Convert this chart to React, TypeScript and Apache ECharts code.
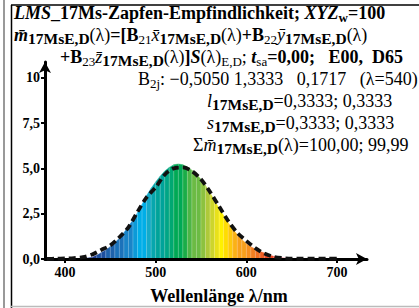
import React, { useEffect, useRef } from "react";
import * as echarts from "echarts";

// ---------- data ----------
const spectrumLambda = [
  400, 405, 410, 415, 420, 425, 430, 435, 440, 445, 450, 455, 460, 465, 470, 475, 480, 485, 490, 495,
  500, 505, 510, 515, 520, 525, 530, 535, 540, 545, 550, 555, 560, 565, 570, 575, 580, 585, 590, 595,
  600, 605, 610, 615, 620, 625, 630, 635, 640, 645, 650, 655, 660, 665, 670,
];
const spectrumValues = [
  0, 0.005, 0.01, 0.02, 0.03, 0.06, 0.1, 0.2, 0.35, 0.5, 0.68, 0.9, 1.15, 1.45, 1.8, 2.15, 2.55, 3.0, 3.5, 3.9,
  4.25, 4.57, 4.85, 5.05, 5.2, 5.24, 5.2, 5.08, 4.9, 4.67, 4.4, 4.05, 3.65, 3.22, 2.8, 2.4, 2.0, 1.65, 1.35, 1.08,
  0.85, 0.68, 0.55, 0.43, 0.33, 0.23, 0.15, 0.1, 0.06, 0.04, 0.02, 0.015, 0.01, 0.005, 0,
];
const dashedLambda = [
  380, 390, 400, 410, 420, 430, 440, 450, 460, 470, 480, 490, 500, 510, 520, 530, 540, 550, 560, 570,
  580, 590, 600, 610, 620, 630, 640, 650, 660, 670, 680, 690, 700,
];
const dashedValues = [
  0, 0.02, 0.03, 0.05, 0.1, 0.25, 0.5, 0.75, 1.2, 1.75, 2.6, 3.4, 3.95, 4.65, 5.0, 5.05, 4.85, 4.4, 3.7, 2.9,
  2.1, 1.45, 1.0, 0.6, 0.3, 0.12, 0.05, 0.02, 0.02, 0.02, 0.02, 0.02, 0.02,
];
const xTicks = [400, 500, 600, 700];
const yTicks = [0, 2.5, 5, 7.5, 10];
const yTickLabels = ["0,0", "2,5", "5,0", "7,5", "10"];
const refLineValue = 5;

// spectral colour stops (style)
const spectrumStops: [number, string][] = [
  [400, "#2b2f7e"], [425, "#1f3c8f"], [435, "#1d4f9f"], [445, "#1e62ac"], [455, "#1c72ba"],
  [465, "#1a84c8"], [475, "#0c9ad8"], [480, "#00aee8"], [488, "#14aac8"], [495, "#06a6ae"],
  [500, "#00a39a"], [507, "#00a686"], [513, "#00a872"], [520, "#00a955"], [528, "#1aad48"],
  [535, "#4db546"], [540, "#6bbb44"], [546, "#8cc23f"], [552, "#aec93a"], [557, "#cdd52c"],
  [562, "#e8e11a"], [566, "#fff100"], [572, "#ffdd00"], [578, "#fec80c"], [584, "#fbb116"],
  [590, "#f8a01b"], [596, "#f6901e"], [602, "#f47f20"], [608, "#f27021"], [614, "#ef5e23"],
  [620, "#ed4a25"], [626, "#ea3527"], [632, "#e4212b"], [640, "#dc1e32"], [650, "#d01c3c"],
];
function colorAt(l: number): string {
  let c = spectrumStops[0][1];
  for (const [w, col] of spectrumStops) if (w <= l + 0.01) c = col;
  return c;
}

const SERIF = '"Liberation Serif", "Times New Roman", serif';
const F = 18;
const LH = 22;

const rich: any = {
  b: { fontFamily: SERIF, fontSize: F, fontWeight: "bold", lineHeight: LH, color: "#000" },
  n: { fontFamily: SERIF, fontSize: F, fontWeight: "normal", lineHeight: LH, color: "#000" },
  bi: { fontFamily: SERIF, fontSize: F, fontWeight: "bold", fontStyle: "italic", lineHeight: LH, color: "#000" },
  i: { fontFamily: SERIF, fontSize: F, fontWeight: "normal", fontStyle: "italic", lineHeight: LH, color: "#000" },
  sb: { fontFamily: SERIF, fontSize: 15.5, fontWeight: "bold", lineHeight: 12, verticalAlign: "bottom", color: "#000" },
  sw: { fontFamily: SERIF, fontSize: 13, fontWeight: "bold", lineHeight: 10, verticalAlign: "bottom", color: "#000" },
  sn: { fontFamily: SERIF, fontSize: 13, fontWeight: "normal", lineHeight: 10, verticalAlign: "bottom", color: "#000" },
};

function txt(x: number, y: number, text: string) {
  return {
    type: "text",
    x,
    y,
    z: 10,
    style: { text, rich, align: "left", verticalAlign: "middle", fill: "#000" },
  };
}

export default function App() {
  const ref = useRef<HTMLDivElement>(null);
  useEffect(() => {
    if (!ref.current) return;
    const chart = echarts.init(ref.current, undefined, { renderer: "svg" });

    const segs: number[][] = [];
    for (let i = 0; i < spectrumLambda.length - 1; i++) {
      segs.push([spectrumLambda[i], spectrumValues[i], spectrumLambda[i + 1], spectrumValues[i + 1]]);
    }

    const option: any = {
      animation: false,
      grid: { left: 45, right: 52, top: 62, bottom: 49 },
      xAxis: {
        type: "value",
        min: 378,
        max: 733.1,
        z: 3,
        axisLine: {
          lineStyle: { color: "#000", width: 3 },
          symbol: ["none", "arrow"],
          symbolSize: [9, 11],
        },
        axisTick: { customValues: xTicks, length: 4, lineStyle: { color: "#000", width: 2 } },
        axisLabel: {
          customValues: xTicks,
          fontFamily: SERIF,
          fontWeight: "bold",
          fontSize: 14,
          color: "#000",
          margin: 6,
        },
        splitLine: { show: false },
      },
      yAxis: {
        type: "value",
        min: 0,
        max: 10.866,
        z: 3,
        axisLine: {
          show: true,
          lineStyle: { color: "#000", width: 3 },
          symbol: ["none", "arrow"],
          symbolSize: [9, 11],
        },
        axisTick: { show: true, customValues: yTicks, length: 4, lineStyle: { color: "#000", width: 2 } },
        axisLabel: {
          customValues: yTicks,
          formatter: (v: number) => {
            const k = yTicks.findIndex((t) => Math.abs(t - v) < 1e-6);
            return k >= 0 ? yTickLabels[k] : "";
          },
          fontFamily: SERIF,
          fontWeight: "bold",
          fontSize: 14,
          color: "#000",
          margin: 5,
        },
        splitLine: { show: false },
      },
      series: [
        {
          type: "custom",
          z: 1,
          data: segs,
          encode: { x: [0, 2], y: [1, 3] },
          renderItem: (params: any, api: any) => {
            const x0 = api.value(0), y0 = api.value(1), x1 = api.value(2), y1 = api.value(3);
            const p00 = api.coord([x0, 0]);
            const p0 = api.coord([x0, y0]);
            const p1 = api.coord([x1, y1]);
            const p10 = api.coord([x1, 0]);
            const c = colorAt(x0);
            return {
              type: "group",
              children: [
                {
                  type: "polygon",
                  shape: { points: [p00, p0, p1, p10] },
                  style: { fill: c, stroke: c, lineWidth: 0.4 },
                },
                {
                  type: "line",
                  shape: { x1: p00[0], y1: p00[1], x2: p0[0], y2: p0[1] },
                  style: { stroke: "rgba(255,255,255,0.4)", lineWidth: 0.6 },
                },
              ],
            };
          },
          markLine: {
            silent: true,
            symbol: ["none", "none"],
            label: { show: false },
            lineStyle: { color: "#000", type: [10, 6], width: 1.3 },
            data: [[{ coord: [378, refLineValue] }, { coord: [738, refLineValue] }]],
          },
        },
        {
          type: "line",
          z: 5,
          data: dashedLambda.map((l, i) => [l, dashedValues[i]]),
          smooth: 0.3,
          showSymbol: false,
          lineStyle: { color: "#111", width: 3.8, type: [7, 4] },
        },
      ],
      graphic: [
        { type: "line", shape: { x1: 4, y1: 0, x2: 4, y2: 308 }, style: { stroke: "#999", lineWidth: 2 } },
        { type: "line", shape: { x1: 11.5, y1: 5, x2: 11.5, y2: 308 }, style: { stroke: "#000", lineWidth: 1.5 } },
        { type: "line", shape: { x1: 11, y1: 5, x2: 419, y2: 5 }, style: { stroke: "#000", lineWidth: 1.5 } },
        { type: "line", shape: { x1: 11, y1: 306.5, x2: 419, y2: 306.5 }, style: { stroke: "#bbb", lineWidth: 1.5 } },
        txt(14, 13, "{bi|LMS}{b|_17Ms-Zapfen-Empfindlichkeit; }{bi|XYZ}{sw|w}{b|=100}"),
        txt(14, 35, "{bi|m\u0304}{sb|17MsE,D}{n|(λ)}{b|=[B}{sn|21}{i|x\u0304}{sb|17MsE,D}{n|(λ)}{b|+B}{sn|22}{i|\u0233}{sb|17MsE,D}{n|(λ)}"),
        txt(60, 57, "{b|+B}{sn|23}{i|z\u0304}{sb|17MsE,D}{n|(λ)}{b|]}{bi|S}{n|(λ)}{sn|E,D}{n|; }{bi|t}{sn|sa}{b|=0,00;   E00,  D65}"),
        txt(138, 79, "{n|B}{sn|2j}{n|: \u22120,5050 1,3333   0,1717   (λ=540)}"),
        txt(207, 101, "{i|l}{sb|17MsE,D}{n|=0,3333; 0,3333}"),
        txt(207, 123, "{i|s}{sb|17MsE,D}{n|=0,3333; 0,3333}"),
        txt(193, 145, "{n|Σ}{i|m\u0304}{sb|17MsE,D}{n|(λ)=100,00; 99,99}"),
        {
          type: "text",
          x: 219,
          y: 296,
          z: 10,
          style: {
            text: "Wellenlänge λ/nm",
            fontFamily: SERIF,
            fontWeight: "bold",
            fontSize: 18,
            align: "center",
            verticalAlign: "middle",
            fill: "#000",
          },
        },
      ],
    };
    chart.setOption(option);
    return () => chart.dispose();
  }, []);
  return (
    <div
      ref={ref}
      style={{ position: "fixed", left: 0, top: 0, width: 419, height: 308, background: "#fff" }}
    />
  );
}
